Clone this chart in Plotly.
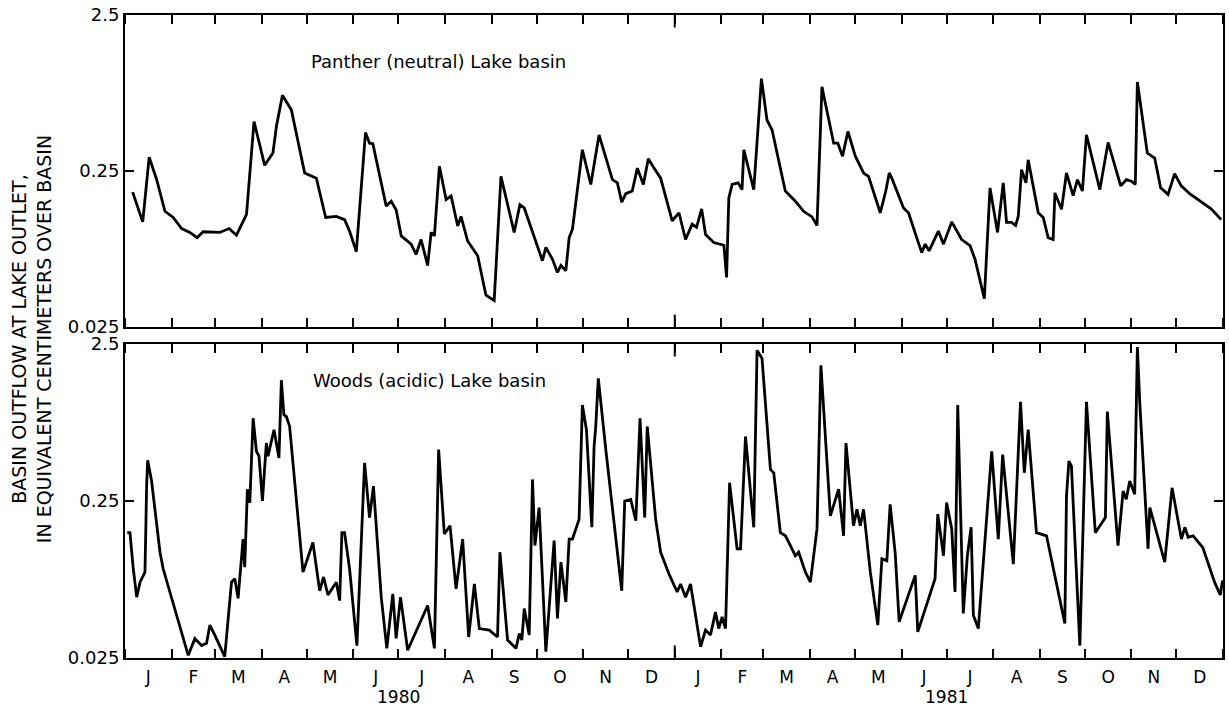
import numpy as np
import pandas as pd
import plotly.graph_objects as go

# ---------------- data (days since 1 Jan 1980, flow in cm) ----------------
panther_day = [
    5.1, 11.8, 16.1, 21.1, 26.6, 32.1, 37.7, 43.2, 48.0, 52.0,
    63.1, 69.3, 74.2, 80.9, 85.9, 93.0, 98.5, 100.8, 104.8, 110.8,
    119.6, 127.4, 133.6, 140.7, 146.2, 149.5, 154.0, 160.1, 162.8, 165.0,
    173.9, 177.2, 180.5, 183.9, 190.5, 193.8, 197.1, 201.5, 203.8, 206.0,
    209.3, 213.8, 217.1, 221.5, 223.7, 228.1, 234.8, 240.3, 245.8, 250.3,
    259.1, 262.9, 265.8, 277.9, 280.2, 284.6, 287.9, 290.2, 293.5, 295.7,
    297.9, 304.5, 310.1, 315.6, 324.5, 327.8, 330.7, 333.4, 337.7, 341.1,
    345.1, 348.4, 352.2, 356.6, 364.3, 368.8, 373.2, 377.6, 380.5, 383.9,
    386.5, 392.0, 398.7, 400.5, 402.0, 404.2, 408.2, 410.8, 412.0, 418.6,
    423.7, 427.4, 430.8, 439.6, 446.3, 451.8, 457.4, 460.7, 464.0, 471.8,
    474.6, 477.7, 481.3, 486.2, 491.7, 495.0, 502.8, 506.5, 508.8, 510.5,
    518.3, 521.6, 530.4, 532.7, 535.3, 541.5, 544.9, 550.4, 557.0, 562.6,
    565.9, 572.1, 575.9, 580.9, 584.7, 586.9, 590.2, 592.9, 594.7, 596.9,
    599.8, 601.3, 608.0, 611.3, 614.6, 617.9, 619.1, 623.5, 626.8, 631.2,
    634.1, 637.4, 640.1, 649.0, 654.5, 662.9, 666.7, 670.0, 672.6, 674.0,
    680.6, 685.5, 689.5, 694.4, 698.8, 703.2, 708.8, 717.6, 723.1, 729.8,
]
panther_flow = [
    0.183, 0.118, 0.307, 0.220, 0.138, 0.126, 0.107, 0.101, 0.0935, 0.102,
    0.101, 0.107, 0.097, 0.132, 0.519, 0.272, 0.326, 0.482, 0.765, 0.614,
    0.243, 0.225, 0.126, 0.128, 0.122, 0.103, 0.076, 0.441, 0.377, 0.374,
    0.149, 0.160, 0.141, 0.096, 0.085, 0.073, 0.091, 0.062, 0.101, 0.096,
    0.268, 0.164, 0.173, 0.111, 0.128, 0.089, 0.0716, 0.040, 0.037, 0.231,
    0.101, 0.152, 0.145, 0.0665, 0.081, 0.068, 0.056, 0.062, 0.0574, 0.0935,
    0.106, 0.342, 0.205, 0.426, 0.220, 0.21, 0.158, 0.179, 0.186, 0.261,
    0.205, 0.300, 0.261, 0.225, 0.120, 0.135, 0.091, 0.114, 0.109, 0.143,
    0.098, 0.087, 0.0836, 0.052, 0.168, 0.205, 0.21, 0.19, 0.342, 0.19,
    0.978, 0.531, 0.458, 0.186, 0.160, 0.138, 0.127, 0.112, 0.866, 0.377,
    0.377, 0.311, 0.448, 0.311, 0.243, 0.231, 0.135, 0.186, 0.243, 0.225,
    0.145, 0.135, 0.075, 0.085, 0.077, 0.103, 0.085, 0.118, 0.091, 0.083,
    0.068, 0.038, 0.195, 0.101, 0.21, 0.117, 0.117, 0.112, 0.128, 0.255,
    0.21, 0.295, 0.135, 0.126, 0.0935, 0.091, 0.181, 0.142, 0.243, 0.174,
    0.220, 0.186, 0.426, 0.19, 0.381, 0.201, 0.220, 0.215, 0.205, 0.931,
    0.326, 0.303, 0.195, 0.177, 0.240, 0.201, 0.179, 0.156, 0.143, 0.122,
]

woods_day = [
    1.5, 3.3, 5.5, 7.8, 10.0, 13.3, 14.4, 15.1, 17.7, 23.3,
    25.4, 35.4, 42.1, 46.5, 51.0, 54.3, 56.5, 59.8, 66.4, 70.9,
    73.1, 75.3, 78.6, 79.7, 81.5, 83.1, 85.3, 87.5, 89.2, 91.5,
    94.1, 95.2, 99.2, 102.5, 104.1, 105.8, 107.4, 109.6, 117.4, 118.5,
    125.1, 129.6, 132.2, 135.1, 140.7, 142.9, 144.4, 146.2, 149.5, 154.4,
    159.5, 162.8, 165.4, 170.6, 174.3, 178.3, 180.5, 183.4, 188.2, 201.5,
    206.0, 208.8, 212.6, 216.4, 220.4, 224.8, 228.8, 232.6, 235.9, 242.5,
    248.0, 249.6, 254.7, 260.3, 262.5, 264.2, 265.8, 269.1, 271.3, 272.9,
    275.7, 280.2, 285.7, 287.9, 290.2, 293.5, 295.7, 297.9, 302.3, 304.5,
    307.2, 310.8, 312.3, 313.4, 315.1, 320.1, 330.7, 332.7, 336.7, 340.1,
    342.9, 346.0, 347.7, 353.3, 356.6, 361.0, 362.1, 367.6, 369.9, 373.2,
    376.5, 383.2, 386.5, 389.8, 393.1, 395.3, 397.5, 399.8, 402.5, 407.5,
    409.8, 413.1, 418.6, 420.8, 424.1, 429.7, 431.9, 436.3, 439.7, 443.0,
    446.3, 448.5, 453.0, 456.3, 460.7, 463.3, 466.3, 469.6, 475.1, 478.4,
    480.0, 485.0, 487.3, 489.5, 491.7, 496.2, 501.2, 503.9, 507.2, 509.4,
    512.8, 515.4, 526.1, 527.8, 539.3, 541.1, 544.9, 547.0, 550.4, 552.6,
    554.4, 556.0, 558.1, 560.8, 563.3, 564.8, 568.1, 577.0, 581.4, 584.3,
    591.4, 596.2, 598.7, 601.3, 606.8, 613.5, 625.7, 626.8, 628.4, 630.1,
    635.7, 640.1, 642.3, 643.9, 646.0, 652.7, 654.0, 661.1, 664.5, 666.6,
    668.9, 672.2, 674.0, 675.6, 681.1, 682.3, 692.2, 697.1, 703.3, 705.6,
    707.8, 711.1, 717.6, 725.4, 729.2, 730.7,
]
woods_flow = [
    0.157, 0.157, 0.0925, 0.061, 0.076, 0.088, 0.311, 0.454, 0.335, 0.118,
    0.0925, 0.0435, 0.026, 0.0333, 0.030, 0.031, 0.0405, 0.035, 0.0255, 0.076,
    0.080, 0.060, 0.143, 0.0946, 0.297, 0.244, 0.841, 0.518, 0.482, 0.25,
    0.585, 0.482, 0.711, 0.47, 1.47, 0.885, 0.863, 0.746, 0.118, 0.088,
    0.136, 0.067, 0.082, 0.063, 0.076, 0.058, 0.157, 0.157, 0.0925, 0.030,
    0.437, 0.196, 0.311, 0.061, 0.0288, 0.064, 0.0333, 0.061, 0.028, 0.054,
    0.0288, 0.531, 0.154, 0.174, 0.069, 0.143, 0.034, 0.074, 0.0385, 0.0376,
    0.034, 0.118, 0.0325, 0.0288, 0.0358, 0.0325, 0.0516, 0.035, 0.343, 0.130,
    0.227, 0.0274, 0.140, 0.0446, 0.102, 0.0568, 0.143, 0.143, 0.191, 1.02,
    0.711, 0.170, 0.557, 0.746, 1.51, 0.531, 0.067, 0.25, 0.256, 0.187,
    0.841, 0.196, 0.746, 0.191, 0.118, 0.0925, 0.086, 0.0658, 0.074, 0.061,
    0.074, 0.0295, 0.0376, 0.035, 0.049, 0.0385, 0.0456, 0.0385, 0.327, 0.124,
    0.124, 0.644, 0.170, 2.28, 2.02, 0.397, 0.378, 0.157, 0.150, 0.130,
    0.112, 0.118, 0.088, 0.076, 0.166, 1.83, 0.615, 0.201, 0.297, 0.150,
    0.585, 0.174, 0.221, 0.174, 0.221, 0.088, 0.0405, 0.107, 0.104, 0.238,
    0.115, 0.0425, 0.084, 0.0367, 0.080, 0.206, 0.112, 0.244, 0.166, 0.0658,
    1.02, 0.311, 0.048, 0.112, 0.170, 0.0468, 0.0385, 0.518, 0.143, 0.494,
    0.099, 1.07, 0.378, 0.711, 0.157, 0.150, 0.0415, 0.269, 0.448, 0.417,
    0.030, 1.07, 0.531, 0.343, 0.157, 0.196, 0.928, 0.130, 0.289, 0.256,
    0.335, 0.276, 2.39, 1.05, 0.124, 0.227, 0.102, 0.303, 0.143, 0.170,
    0.147, 0.150, 0.126, 0.076, 0.063, 0.078,
]

month_names = ["Jan", "Feb", "Mar", "Apr", "May", "Jun",
               "Jul", "Aug", "Sep", "Oct", "Nov", "Dec"]
month_letters = ["J", "F", "M", "A", "M", "J", "J", "A", "S", "O", "N", "D"]
year_labels = ["1980", "1981"]
y_tick_values = [0.025, 0.25, 2.5]
y_tick_text = ["0.025", "0.25", "2.5"]
panel_titles = ["Panther (neutral) Lake basin", "Woods (acidic) Lake basin"]
y_title = "BASIN OUTFLOW AT LAKE OUTLET,<br>IN EQUIVALENT CENTIMETERS OVER BASIN"

# ---------------- helpers ----------------
start = pd.Timestamp("1980-01-01")
def to_dates(days):
    return start + pd.to_timedelta(days, unit="D")

panther_x = to_dates(panther_day)
woods_x = to_dates(woods_day)
x_range = ["1980-01-01", "1982-01-01"]
year_boundary = "1981-01-01"
year_mid = ["1980-07-01", "1981-07-01"]
alias = dict(zip(month_names, month_letters))

FONT = "DejaVu Sans"

fig = go.Figure()
line_style = dict(color="black", width=2.8)
fig.add_trace(go.Scatter(x=panther_x, y=panther_flow, mode="lines", line=line_style,
                         xaxis="x", yaxis="y", showlegend=False))
fig.add_trace(go.Scatter(x=woods_x, y=woods_flow, mode="lines", line=line_style,
                         xaxis="x2", yaxis="y2", showlegend=False))

def xaxis_cfg(anchor, labels):
    return dict(
        anchor=anchor, type="date", range=x_range, domain=[0, 1],
        showline=True, linewidth=2, linecolor="black", mirror="allticks",
        tick0="1980-01-01", dtick="M1", tickformat="%b",
        ticklabelmode="period", labelalias=alias,
        showticklabels=labels, ticks="inside", ticklen=9, tickwidth=2,
        tickcolor="black", ticklabelstandoff=3, layer="above traces",
        tickfont=dict(family=FONT, size=17, color="black"),
        showgrid=False, zeroline=False,
    )

def yaxis_cfg(anchor, domain):
    return dict(
        anchor=anchor, domain=domain, type="log",
        range=[np.log10(0.025), np.log10(2.5)],
        tickmode="array", tickvals=y_tick_values, ticktext=y_tick_text,
        ticks="inside", ticklen=9, tickwidth=2, tickcolor="black",
        showline=True, linewidth=2, linecolor="black", mirror="allticks",
        layer="above traces",
        tickfont=dict(family=FONT, size=18, color="black"),
        showgrid=False, zeroline=False,
    )

fig.update_layout(
    width=1229, height=711,
    margin=dict(l=125, r=4, t=11, b=53),
    paper_bgcolor="white", plot_bgcolor="white",
    showlegend=False,
    xaxis=xaxis_cfg("y", False),
    yaxis=yaxis_cfg("x", [0.5147, 1.0]),
    xaxis2=xaxis_cfg("y2", True),
    yaxis2=yaxis_cfg("x2", [0.0, 0.4884]),
    font=dict(family=FONT, color="black"),
)

# longer tick at the year boundary
shapes = []
for xref, yref in [("x", "y domain"), ("x2", "y2 domain")]:
    shapes.append(dict(type="line", xref=xref, yref=yref, x0=year_boundary, x1=year_boundary,
                       y0=0, y1=0.04, line=dict(color="black", width=2)))
    shapes.append(dict(type="line", xref=xref, yref=yref, x0=year_boundary, x1=year_boundary,
                       y0=1 - 0.04, y1=1, line=dict(color="black", width=2)))
fig.update_layout(shapes=shapes)

annotations = [
    dict(text=panel_titles[0], xref="x", yref="y domain", x=str(to_dates([209])[0].date()), y=0.85,
         showarrow=False, font=dict(family=FONT, size=18, color="black"),
         xanchor="center", yanchor="middle"),
    dict(text=panel_titles[1], xref="x2", yref="y2 domain", x=str(to_dates([203])[0].date()), y=0.883,
         showarrow=False, font=dict(family=FONT, size=18, color="black"),
         xanchor="center", yanchor="middle"),
    dict(text=y_title, xref="paper", yref="paper", x=-0.0855, y=0.496,
         textangle=-90, showarrow=False, align="center",
         font=dict(family=FONT, size=19, color="black"),
         xanchor="center", yanchor="middle"),
]
for lbl, xd in zip(year_labels, year_mid):
    annotations.append(dict(text=lbl, xref="x2", yref="paper", x=xd, y=-0.06,
                            showarrow=False, font=dict(family=FONT, size=17, color="black"),
                            xanchor="center", yanchor="middle"))
fig.update_layout(annotations=annotations)

fig.write_html("out.html", config={"displayModeBar": False},
               post_script="document.body.style.margin='0';document.body.style.overflow='hidden';")
